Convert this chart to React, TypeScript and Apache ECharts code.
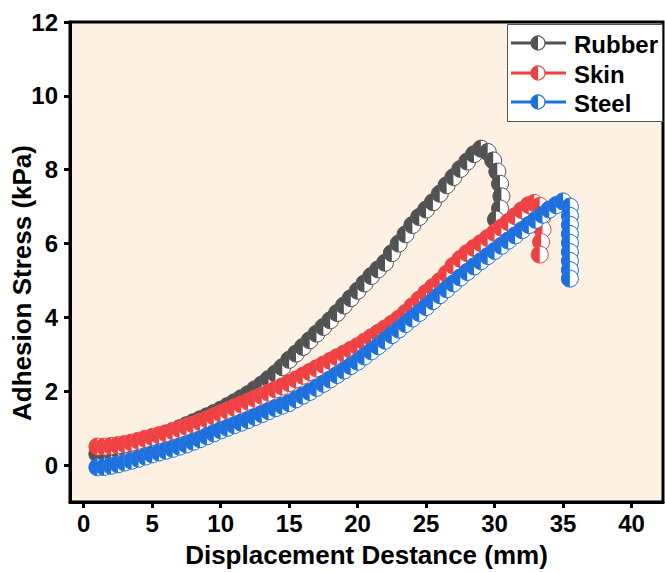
import { useEffect, useRef } from "react";
import * as echarts from "echarts";

// Displacement (mm) and adhesion stress (kPa) for each contact surface
const rubberX = [
  1.0, 1.5, 2.0, 2.5, 3.0, 3.5, 4.0, 4.5, 5.0, 5.5, 6.0, 6.5, 7.0, 7.5, 8.0, 8.5, 9.0, 9.5,
  10.0, 10.5, 11.0, 11.5, 12.0, 12.5, 13.0, 13.5, 14.0, 14.5, 15.0, 15.5, 16.0, 16.5, 17.0,
  17.5, 18.0, 18.5, 19.0, 19.5, 20.0, 20.5, 21.0, 21.5, 22.0, 22.5, 23.0, 23.5, 24.0, 24.5,
  25.0, 25.5, 26.0, 26.5, 27.0, 27.5, 28.0, 28.5, 29.0,
  29.5, 29.9, 30.2, 30.4, 30.5, 30.4, 30.1,
];
const rubberY = [
  0.3, 0.33, 0.37, 0.42, 0.47, 0.52, 0.58, 0.64, 0.7, 0.77, 0.84, 0.92, 1.0, 1.08, 1.16, 1.24,
  1.32, 1.41, 1.5, 1.6, 1.7, 1.81, 1.92, 2.05, 2.18, 2.33, 2.48, 2.65, 2.85, 3.02, 3.2, 3.38,
  3.56, 3.74, 3.92, 4.12, 4.32, 4.52, 4.72, 4.92, 5.12, 5.3, 5.48, 5.74, 6.0, 6.25, 6.5, 6.72,
  6.92, 7.12, 7.35, 7.58, 7.8, 8.02, 8.22, 8.42, 8.57,
  8.48, 8.25, 7.95, 7.62, 7.28, 6.95, 6.65,
];

const skinX = [
  1.0, 1.5, 2.0, 2.5, 3.0, 3.5, 4.0, 4.5, 5.0, 5.5, 6.0, 6.5, 7.0, 7.5, 8.0, 8.5, 9.0, 9.5,
  10.0, 10.5, 11.0, 11.5, 12.0, 12.5, 13.0, 13.5, 14.0, 14.5, 15.0, 15.5, 16.0, 16.5, 17.0,
  17.5, 18.0, 18.5, 19.0, 19.5, 20.0, 20.5, 21.0, 21.5, 22.0, 22.5, 23.0, 23.5, 24.0, 24.5,
  25.0, 25.5, 26.0, 26.5, 27.0, 27.5, 28.0, 28.5, 29.0, 29.5, 30.0, 30.5, 31.0, 31.5, 32.0,
  32.5, 32.9,
  33.3, 33.5, 33.5, 33.4, 33.3,
];
const skinY = [
  0.5, 0.5, 0.52, 0.54, 0.57, 0.61, 0.66, 0.71, 0.76, 0.81, 0.86, 0.92, 0.98, 1.04, 1.1, 1.17,
  1.24, 1.32, 1.4, 1.48, 1.56, 1.64, 1.72, 1.8, 1.88, 1.96, 2.05, 2.13, 2.22, 2.32, 2.42, 2.52,
  2.62, 2.72, 2.82, 2.92, 3.02, 3.12, 3.22, 3.34, 3.46, 3.58, 3.7, 3.83, 3.96, 4.12, 4.3, 4.48,
  4.66, 4.82, 4.98, 5.18, 5.4, 5.58, 5.74, 5.88, 6.01, 6.15, 6.29, 6.43, 6.58, 6.74, 6.9,
  7.04, 7.1,
  7.02, 6.72, 6.38, 6.04, 5.7,
];

const steelX = [
  1.0, 1.5, 2.0, 2.5, 3.0, 3.5, 4.0, 4.5, 5.0, 5.5, 6.0, 6.5, 7.0, 7.5, 8.0, 8.5, 9.0, 9.5,
  10.0, 10.5, 11.0, 11.5, 12.0, 12.5, 13.0, 13.5, 14.0, 14.5, 15.0, 15.5, 16.0, 16.5, 17.0,
  17.5, 18.0, 18.5, 19.0, 19.5, 20.0, 20.5, 21.0, 21.5, 22.0, 22.5, 23.0, 23.5, 24.0, 24.5,
  25.0, 25.5, 26.0, 26.5, 27.0, 27.5, 28.0, 28.5, 29.0, 29.5, 30.0, 30.5, 31.0, 31.5, 32.0,
  32.5, 33.0, 33.5, 34.0, 34.5, 35.0,
  35.5, 35.5, 35.5, 35.5, 35.5, 35.5, 35.5, 35.5, 35.5,
];
const steelY = [
  -0.06, -0.05, -0.02, 0.02, 0.07, 0.12, 0.17, 0.23, 0.29, 0.34, 0.39, 0.44, 0.5, 0.56, 0.63,
  0.7, 0.78, 0.86, 0.94, 1.01, 1.08, 1.15, 1.22, 1.3, 1.38, 1.46, 1.54, 1.61, 1.68, 1.78, 1.88,
  1.98, 2.09, 2.2, 2.32, 2.44, 2.56, 2.68, 2.8, 2.94, 3.08, 3.22, 3.37, 3.52, 3.67, 3.82, 3.97,
  4.12, 4.28, 4.44, 4.6, 4.76, 4.92, 5.08, 5.23, 5.38, 5.52, 5.66, 5.8, 5.94, 6.08, 6.22, 6.36,
  6.5, 6.64, 6.78, 6.92, 7.04, 7.14,
  7.0, 6.75, 6.51, 6.26, 6.02, 5.77, 5.53, 5.28, 5.05,
];

const seriesNames = ["Rubber", "Skin", "Steel"];
const seriesColors = ["#525252", "#EF4142", "#1D70DE"];
const xTicks = [0, 5, 10, 15, 20, 25, 30, 35, 40];
const yTicks = [0, 2, 4, 6, 8, 10, 12];

const MARKER_R = 8.5;
const FONT = "Liberation Sans, Arial, Helvetica, sans-serif";

function pairs(xs: number[], ys: number[]) {
  return xs.map((x, i) => [x, ys[i]]);
}

// Circle with the left half filled in the series colour and the right half white
function halfFilledMarker(color: string) {
  return (_params: any, api: any) => {
    const p = api.coord([api.value(0), api.value(1)]);
    return {
      type: "group",
      children: [
        {
          type: "circle",
          shape: { cx: p[0], cy: p[1], r: MARKER_R },
          style: { fill: "#ffffff", stroke: color, lineWidth: 1 },
        },
        {
          type: "sector",
          shape: {
            cx: p[0],
            cy: p[1],
            r0: 0,
            r: MARKER_R,
            startAngle: Math.PI / 2,
            endAngle: Math.PI * 1.5,
            clockwise: true,
          },
          style: { fill: color },
        },
      ],
    };
  };
}

function legendItem(name: string, color: string, y: number) {
  const cx = 538;
  const z = 101;
  return [
    {
      type: "line",
      z,
      shape: { x1: 511, y1: y, x2: 566, y2: y },
      style: { stroke: color, lineWidth: 3 },
    },
    {
      type: "circle",
      z: z + 1,
      shape: { cx, cy: y, r: 7 },
      style: { fill: "#ffffff", stroke: color, lineWidth: 1.2 },
    },
    {
      type: "sector",
      z: z + 2,
      shape: { cx, cy: y, r0: 0, r: 7, startAngle: Math.PI / 2, endAngle: Math.PI * 1.5, clockwise: true },
      style: { fill: color },
    },
    {
      type: "text",
      z: z + 2,
      x: 574,
      y: y + 1,
      style: {
        text: name,
        fill: "#000000",
        font: `bold 24px ${FONT}`,
        verticalAlign: "middle",
        align: "left",
      },
    },
  ];
}

export default function App() {
  const ref = useRef<HTMLDivElement>(null);

  useEffect(() => {
    if (!ref.current) return;
    const chart = echarts.init(ref.current, null, { renderer: "svg" });
    const data = [pairs(rubberX, rubberY), pairs(skinX, skinY), pairs(steelX, steelY)];

    const axisCommon = {
      axisLine: { show: true, onZero: false, lineStyle: { color: "#000", width: 3 } },
      axisTick: { show: true, inside: false, length: 6, lineStyle: { color: "#000", width: 3 } },
      splitLine: { show: false },
      nameMoveOverlap: false,
      nameTextStyle: { fontFamily: FONT, fontWeight: "bold" as const, fontSize: 26, color: "#000" },
    };
    const tickLabel = {
      fontFamily: FONT,
      fontWeight: "bold" as const,
      fontSize: 24,
      color: "#000",
    };

    chart.setOption({
      animation: false,
      backgroundColor: "#ffffff",
      grid: {
        left: 70,
        top: 22,
        right: 2,
        bottom: 70,
        outerBoundsMode: "none",
        containLabel: false,
        show: true,
        backgroundColor: "#FCF1E3",
        borderColor: "#000",
        borderWidth: 3,
      },
      xAxis: {
        type: "value",
        min: -1,
        max: 42.3,
        name: "Displacement Destance (mm)",
        nameLocation: "middle",
        nameGap: 40,
        ...axisCommon,
        axisTick: { ...axisCommon.axisTick, customValues: xTicks },
        axisLabel: { ...tickLabel, customValues: xTicks, margin: 9 },
      },
      yAxis: {
        type: "value",
        min: -1,
        max: 12,
        name: "Adhesion Stress (kPa)",
        nameLocation: "middle",
        nameGap: 35,
        ...axisCommon,
        nameTextStyle: { ...axisCommon.nameTextStyle, padding: [0, 42, 0, 0] },
        axisTick: { ...axisCommon.axisTick, customValues: yTicks },
        axisLabel: { ...tickLabel, customValues: yTicks, margin: 12 },
      },
      series: seriesNames.map((name, i) => ({
        name,
        type: "custom",
        data: data[i],
        encode: { x: 0, y: 1 },
        renderItem: halfFilledMarker(seriesColors[i]),
        z: 2 + i,
      })),
      graphic: [
        {
          type: "rect",
          shape: { x: 507.5, y: 24.5, width: 155, height: 97 },
          style: { fill: "#ffffff", stroke: "#555555", lineWidth: 1 },
          z: 100,
        },
        ...seriesNames.flatMap((n, i) => legendItem(n, seriesColors[i], [43, 73, 102][i])),
      ],
    });

    return () => chart.dispose();
  }, []);

  return (
    <div
      ref={ref}
      style={{ position: "absolute", left: 0, top: 0, width: 665, height: 572 }}
    />
  );
}
